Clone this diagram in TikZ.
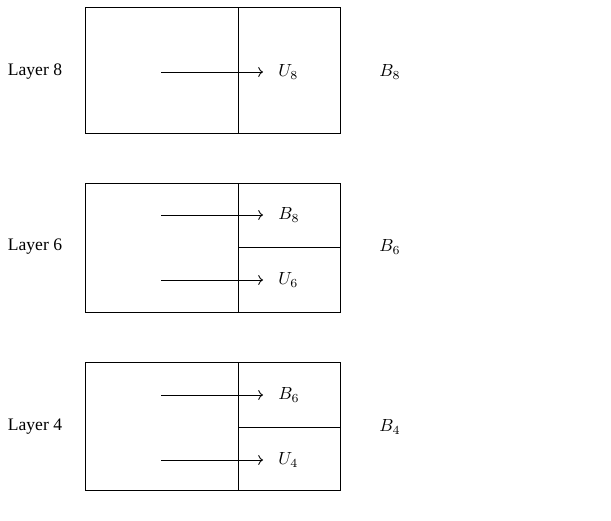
\documentclass[tikz,border=0pt]{standalone}
\usepackage{fontspec}
\setmainfont{Liberation Serif}
\usetikzlibrary{arrows.meta,positioning}
\tikzset{
  cell/.style={draw,line width=.5pt,inner sep=0pt,outer sep=0pt,anchor=north west},
  layername/.style={font=\normalsize},
  tag/.style={inner xsep=.3cm,inner ysep=0pt,anchor=west},
  flow/.style={->,line width=.5pt}
}
\begin{document}
\begin{tikzpicture}
  \useasboundingbox (0,0) rectangle (12.22,10.4);
  % layer 8
  \node[cell,minimum width=3.06cm,minimum height=2.52cm] (l8) at (1.7,10.26) {};
  \node[cell,minimum width=2.04cm,minimum height=2.52cm] (r8) at (l8.north east) {};
  \node[layername] (n8) at (0.7,8.96) {Layer 8};
  \node (b8) at (7.8,8.96) {$B_8$};
  \coordinate (s8) at (3.22,8.96);
  \node[tag] (u8) at (5.26,8.96) {$U_8$};
  \draw[flow] (s8) -- (u8);
  % layer 6
  \node[cell,minimum width=3.06cm,minimum height=2.58cm] (l6) at (1.7,6.74) {};
  \node[cell,minimum width=2.04cm,minimum height=1.28cm] (r6a) at (l6.north east) {};
  \node[cell,minimum width=2.04cm,minimum height=1.30cm] (r6b) at (r6a.south west) {};
  \node[layername] (n6) at (0.7,5.46) {Layer 6};
  \node (b6) at (7.8,5.46) {$B_6$};
  \coordinate (s6a) at (3.22,6.1);
  \coordinate (s6b) at (3.22,4.8);
  \node[tag] (t6a) at (5.26,6.1) {$B_8$};
  \node[tag] (t6b) at (5.26,4.8) {$U_6$};
  \draw[flow] (s6a) -- (t6a);
  \draw[flow] (s6b) -- (t6b);
  % layer 4
  \node[cell,minimum width=3.06cm,minimum height=2.56cm] (l4) at (1.7,3.16) {};
  \node[cell,minimum width=2.04cm,minimum height=1.30cm] (r4a) at (l4.north east) {};
  \node[cell,minimum width=2.04cm,minimum height=1.26cm] (r4b) at (r4a.south west) {};
  \node[layername] (n4) at (0.7,1.86) {Layer 4};
  \node (b4) at (7.8,1.86) {$B_4$};
  \coordinate (s4a) at (3.22,2.5);
  \coordinate (s4b) at (3.22,1.2);
  \node[tag] (t4a) at (5.26,2.5) {$B_6$};
  \node[tag] (t4b) at (5.26,1.2) {$U_4$};
  \draw[flow] (s4a) -- (t4a);
  \draw[flow] (s4b) -- (t4b);
\end{tikzpicture}
\end{document}
